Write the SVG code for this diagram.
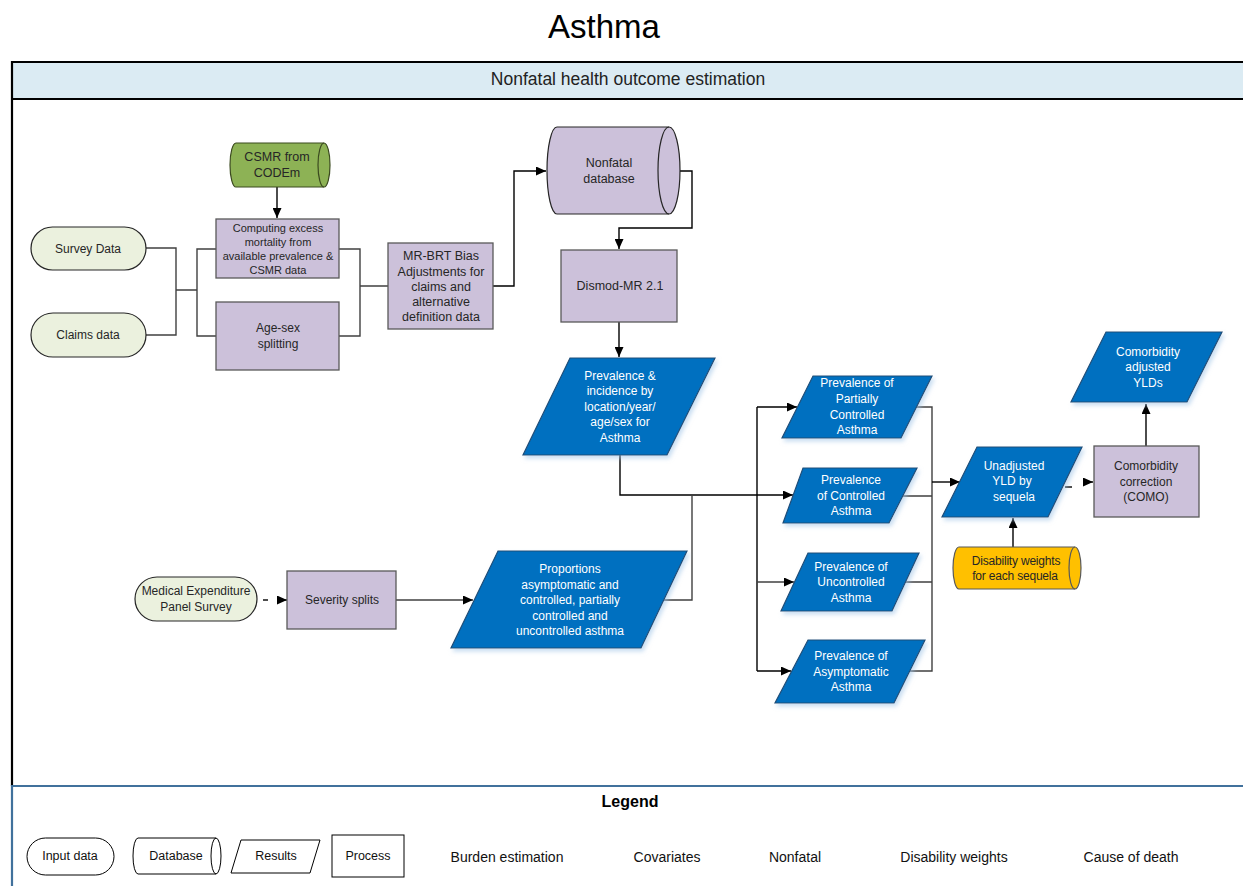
<svg xmlns="http://www.w3.org/2000/svg" width="1243" height="886" viewBox="0 0 1243 886">
<style>
text{font-family:"Liberation Sans",Arial,sans-serif;text-anchor:middle;dominant-baseline:central}
.t{font-size:12px;fill:#262626}
.w{font-size:12px;fill:#fff}
.proc{fill:#CCC1DA;stroke:#595959;stroke-width:1.3}
.res{fill:#0070C0;stroke:#1F4E79;stroke-width:1.2;filter:url(#sh)}
.inp{fill:#EBF1DE;stroke:#262626;stroke-width:1.2}
.cn{fill:none;stroke:#404040;stroke-width:1.4}
.cb{fill:none;stroke:#000;stroke-width:1.4}
.lg{fill:#fff;stroke:#000;stroke-width:1}
.lt{font-size:12.5px;fill:#111}
.ll{font-size:14px;fill:#111}
</style>
<defs>
<marker id="ah" markerWidth="11" markerHeight="9" refX="10" refY="4.5" orient="auto" markerUnits="userSpaceOnUse"><path d="M0,0 L10,4.5 L0,9 Z" fill="#000"/></marker>
<filter id="sh" x="-10%" y="-10%" width="130%" height="130%"><feDropShadow dx="2" dy="3" stdDeviation="2" flood-color="#9DC3E6" flood-opacity="0.55"/></filter>
</defs>
<rect width="1243" height="886" fill="#fff"/>
<text x="604" y="26" style="font-size:33px;fill:#000">Asthma</text>
<g id="frame">
<rect x="12" y="62" width="1240" height="37" fill="#DBEBF3"/>
<path d="M1243 62 H12 V786" fill="none" stroke="#000" stroke-width="2.2"/>
<path d="M12 99 H1243" stroke="#000" stroke-width="2.2"/>
<text x="628" y="79" style="font-size:17.5px;fill:#222">Nonfatal health outcome estimation</text>
<path d="M12 886 V786 H1243" fill="none" stroke="#41719C" stroke-width="2.2"/>
<text x="630" y="801" style="font-size:16px;font-weight:bold;fill:#000">Legend</text>
</g>
<g id="connectors">
<path class="cb" d="M277 187 V218" marker-end="url(#ah)"/>
<path class="cn" d="M146 248 H176 V335 H146 M176 290 H197 M216 249 H197 V336 H216"/>
<path class="cn" d="M339 249 H360 V336 H339 M360 286 H388"/>
<path class="cb" d="M493 286 H514 V171 H546" marker-end="url(#ah)"/>
<path class="cb" d="M680 171 H692 V228 H619 V249" marker-end="url(#ah)"/>
<path class="cb" d="M619 322 V357" marker-end="url(#ah)"/>
<path class="cb" d="M620 455 V495 H793" marker-end="url(#ah)"/>
<path class="cn" d="M663 600 H692 V495"/>
<path class="cb" d="M757 407 V671"/>
<path class="cb" d="M757 407 H797" marker-end="url(#ah)"/>
<path class="cn" d="M757 582 H794" marker-end="url(#ah)"/>
<path class="cb" d="M757 671 H791" marker-end="url(#ah)"/>
<path class="cn" d="M916 407 H932 V671 H910 M901 496 H932 M904 582 H932"/>
<path class="cb" d="M932 482 H960" marker-end="url(#ah)"/>
<path class="cb" d="M1013 547 V518" marker-end="url(#ah)"/>
<path class="cb" d="M1065 487 H1072"/>
<path class="cb" d="M1083 482 H1093" marker-end="url(#ah)"/>
<path class="cb" d="M1146 446 V404" marker-end="url(#ah)"/>
<path class="cb" d="M263 600 H268"/>
<path class="cb" d="M277 600 H287" marker-end="url(#ah)"/>
<path class="cn" d="M396 600 H473" marker-end="url(#ah)"/>
</g>
<g id="csmr">
<path d="M236 143 H324 A6 22 0 0 1 324 187 H236 A6 22 0 0 1 236 143 Z" fill="#8DB255" stroke="#3B4A1F" stroke-width="1.2"/>
<path d="M324 143 A6 22 0 0 0 324 187" fill="none" stroke="#3B4A1F" stroke-width="1.2"/>
<text class="t" x="277" y="157" style="font-size:12.5px">CSMR from</text>
<text class="t" x="277" y="173" style="font-size:12.5px">CODEm</text>
</g>
<g id="computing">
<rect class="proc" x="216" y="219" width="123" height="59"/>
<text class="t" x="278" y="228" style="font-size:11px">Computing excess</text>
<text class="t" x="278" y="242" style="font-size:11px">mortality from</text>
<text class="t" x="278" y="256" style="font-size:11px">available prevalence &amp;</text>
<text class="t" x="278" y="270" style="font-size:11px">CSMR data</text>
</g>
<g id="agesex">
<rect class="proc" x="216" y="302" width="123" height="68"/>
<text class="t" x="278" y="328">Age-sex</text>
<text class="t" x="278" y="344">splitting</text>
</g>
<g id="survey">
<rect class="inp" x="31" y="227" width="115" height="43" rx="21.5"/>
<text class="t" x="88" y="249">Survey Data</text>
</g>
<g id="claims">
<rect class="inp" x="31" y="313" width="115" height="44" rx="22"/>
<text class="t" x="88" y="335">Claims data</text>
</g>
<g id="mrbrt">
<rect class="proc" x="388" y="243" width="105" height="86"/>
<text class="t" x="441" y="256" style="font-size:12.5px">MR-BRT Bias</text>
<text class="t" x="441" y="272" style="font-size:12.5px">Adjustments for</text>
<text class="t" x="441" y="287" style="font-size:12.5px">claims and</text>
<text class="t" x="441" y="302" style="font-size:12.5px">alternative</text>
<text class="t" x="441" y="317" style="font-size:12.5px">definition data</text>
</g>
<g id="nonfataldb">
<path d="M557 127 H669 A11 43.5 0 0 1 669 214 H557 A10 43.5 0 0 1 557 127 Z" fill="#CCC1DA" stroke="#262626" stroke-width="1.2"/>
<path d="M669 127 A11 43.5 0 0 0 669 214" fill="none" stroke="#262626" stroke-width="1.2"/>
<text class="t" x="609" y="163" style="font-size:12.5px">Nonfatal</text>
<text class="t" x="609" y="179" style="font-size:12.5px">database</text>
</g>
<g id="dismod">
<rect class="proc" x="561" y="250" width="116" height="72"/>
<text class="t" x="620" y="286" style="font-size:12.5px">Dismod-MR 2.1</text>
</g>
<g id="previnc">
<path class="res" d="M570 358 H715 L667 455 H523 Z"/>
<text class="w" x="620" y="376">Prevalence &amp;</text>
<text class="w" x="620" y="391">incidence by</text>
<text class="w" x="620" y="407">location/year/</text>
<text class="w" x="620" y="422">age/sex for</text>
<text class="w" x="620" y="438">Asthma</text>
</g>
<g id="meps">
<rect class="inp" x="135" y="577" width="122" height="44" rx="22"/>
<text class="t" x="196" y="591">Medical Expenditure</text>
<text class="t" x="196" y="607">Panel Survey</text>
</g>
<g id="severity">
<rect class="proc" x="287" y="571" width="109" height="58"/>
<text class="t" x="342" y="600">Severity splits</text>
</g>
<g id="proportions">
<path class="res" d="M498 551 H687 L641 648 H451 Z"/>
<text class="w" x="570" y="569">Proportions</text>
<text class="w" x="570" y="585">asymptomatic and</text>
<text class="w" x="570" y="600">controlled, partially</text>
<text class="w" x="570" y="616">controlled and</text>
<text class="w" x="570" y="631">uncontrolled asthma</text>
</g>
<g id="partially">
<path class="res" d="M813 376 H932 L901 438 H782 Z"/>
<text class="w" x="857" y="383">Prevalence of</text>
<text class="w" x="857" y="399">Partially</text>
<text class="w" x="857" y="415">Controlled</text>
<text class="w" x="857" y="430">Asthma</text>
</g>
<g id="controlled">
<path class="res" d="M803 468 H917 L889 523 H783 Z"/>
<text class="w" x="851" y="480">Prevalence</text>
<text class="w" x="851" y="496">of Controlled</text>
<text class="w" x="851" y="511">Asthma</text>
</g>
<g id="uncontrolled">
<path class="res" d="M808 553 H919 L892 611 H781 Z"/>
<text class="w" x="851" y="567">Prevalence of</text>
<text class="w" x="851" y="582">Uncontrolled</text>
<text class="w" x="851" y="598">Asthma</text>
</g>
<g id="asymptomatic">
<path class="res" d="M808 640 H925 L894 703 H775 Z"/>
<text class="w" x="851" y="656">Prevalence of</text>
<text class="w" x="851" y="672">Asymptomatic</text>
<text class="w" x="851" y="687">Asthma</text>
</g>
<g id="unadjusted">
<path class="res" d="M977 447 H1082 L1048 517 H942 Z"/>
<text class="w" x="1014" y="466">Unadjusted</text>
<text class="w" x="1012" y="481">YLD by</text>
<text class="w" x="1014" y="497">sequela</text>
</g>
<g id="dw">
<path d="M959 547 H1075 A6 21 0 0 1 1075 589 H959 A6 21 0 0 1 959 547 Z" fill="#FFC000" stroke="#595959" stroke-width="1.2"/>
<path d="M1075 547 A6 21 0 0 0 1075 589" fill="none" stroke="#595959" stroke-width="1.2"/>
<text class="t" x="1016" y="561" style="letter-spacing:-0.2px">Disability weights</text>
<text class="t" x="1015" y="576" style="letter-spacing:-0.2px">for each sequela</text>
</g>
<g id="como">
<rect class="proc" x="1094" y="446" width="105" height="71"/>
<text class="t" x="1146" y="466">Comorbidity</text>
<text class="t" x="1146" y="482">correction</text>
<text class="t" x="1146" y="497">(COMO)</text>
</g>
<g id="adjusted">
<path class="res" d="M1106 332 H1222 L1187 402 H1071 Z"/>
<text class="w" x="1148" y="352">Comorbidity</text>
<text class="w" x="1148" y="367">adjusted</text>
<text class="w" x="1148" y="383">YLDs</text>
</g>
<g id="legend">
<rect class="lg" x="27" y="838" width="87" height="37" rx="18.5"/>
<text class="lt" x="70" y="856">Input data</text>
<path class="lg" d="M138 838 H216 A5 18 0 0 1 216 874 H138 A5 18 0 0 1 138 838 Z"/>
<path d="M216 838 A5 18 0 0 0 216 874" fill="none" stroke="#000"/>
<text class="lt" x="176" y="856">Database</text>
<path class="lg" d="M241 840 H320 L310 873 H231 Z"/>
<text class="lt" x="276" y="856">Results</text>
<rect class="lg" x="332" y="835" width="72" height="42"/>
<text class="lt" x="368" y="856">Process</text>
<text class="ll" x="507" y="857">Burden estimation</text>
<text class="ll" x="667" y="857">Covariates</text>
<text class="ll" x="795" y="857">Nonfatal</text>
<text class="ll" x="954" y="857">Disability weights</text>
<text class="ll" x="1131" y="857">Cause of death</text>
</g>
</svg>
